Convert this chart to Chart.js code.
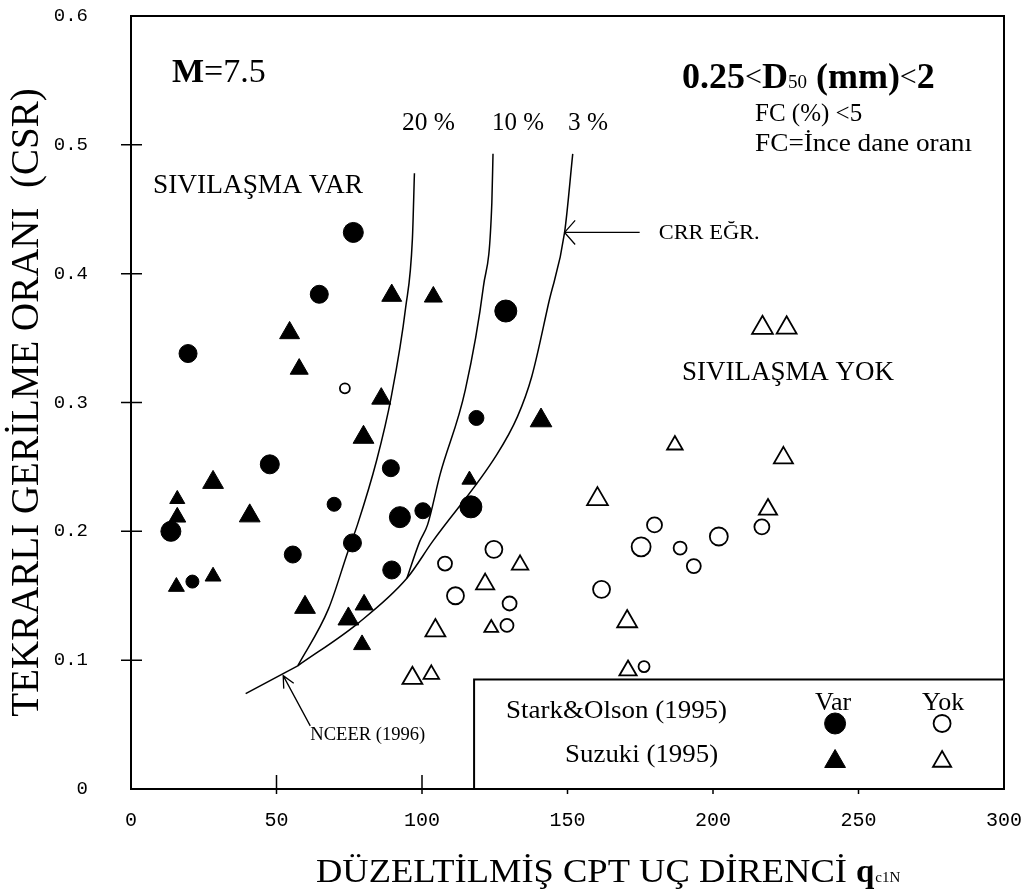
<!DOCTYPE html>
<html>
<head>
<meta charset="utf-8">
<script src="https://cdn.jsdelivr.net/npm/chart.js@4.4.1/dist/chart.umd.min.js"></script>
<style>
  html, body { margin: 0; padding: 0; background: #fff; }
  #wrap { width: 1030px; height: 895px; }
</style>
</head>
<body>
<div id="wrap"><canvas id="chart" width="1030" height="895"></canvas></div>
<script>
// axis ticks
const xTicks = [0, 50, 100, 150, 200, 250, 300];
const yTicks = [0, 0.1, 0.2, 0.3, 0.4, 0.5, 0.6];

// Stark & Olson (1995) - liquefaction (filled circles)
const starkVarQc  = [76.4, 64.7, 128.8, 19.6, 118.7, 47.7, 89.3, 69.8, 92.4, 100.3, 116.8, 13.7, 76.1, 55.6, 89.6, 21.1];
const starkVarCsr = [0.432, 0.384, 0.371, 0.338, 0.288, 0.252, 0.249, 0.221, 0.211, 0.216, 0.219, 0.200, 0.191, 0.182, 0.170, 0.161];
// Suzuki (1995) - liquefaction (filled triangles)
const suzukiVarQc  = [89.6, 103.9, 54.5, 57.8, 86.0, 140.9, 79.9, 116.3, 28.2, 15.9, 40.8, 15.9, 15.6, 28.2, 59.8, 80.1, 74.7, 79.4];
const suzukiVarCsr = [0.383, 0.382, 0.354, 0.326, 0.303, 0.286, 0.273, 0.240, 0.238, 0.225, 0.212, 0.211, 0.157, 0.165, 0.141, 0.143, 0.132, 0.112];
// Stark & Olson (1995) - no liquefaction (open circles)
const starkYokQc  = [73.5, 107.9, 124.7, 111.5, 130.1, 129.2, 179.9, 216.8, 175.3, 188.7, 202.0, 193.4, 161.7, 176.3];
const starkYokCsr = [0.311, 0.175, 0.186, 0.150, 0.144, 0.127, 0.205, 0.2035, 0.188, 0.187, 0.196, 0.173, 0.155, 0.095];
// Suzuki (1995) - no liquefaction (open triangles)
const suzukiYokQc  = [217.0, 225.3, 186.9, 224.2, 160.3, 218.9, 133.7, 121.7, 123.8, 104.6, 96.7, 103.2, 170.5, 170.8];
const suzukiYokCsr = [0.358, 0.358, 0.267, 0.257, 0.225, 0.217, 0.174, 0.159, 0.125, 0.123, 0.086, 0.089, 0.130, 0.092];

// CRR curves (NCEER 1996)
const baseQc  = [39.4, 57.3];
const baseCsr = [0.074, 0.0956];
const curve20Qc  = [57.3, 67.9, 74.5, 77.8, 84.4, 89.4, 94.4, 96.7, 97.4];
const curve20Csr = [0.0956, 0.140, 0.184, 0.205, 0.255, 0.304, 0.374, 0.427, 0.478];
const curve10Qc  = [94.8, 99.2, 101.9, 106.2, 114.9, 121.1, 124.0, 124.4];
const curve10Csr = [0.1635, 0.192, 0.205, 0.244, 0.310, 0.390, 0.455, 0.493];
const curve3Qc  = [57.3, 78.2, 94.8, 103.6, 125.7, 132.8, 137.7, 143.6, 149.0, 151.8];
const curve3Csr = [0.0956, 0.129, 0.1635, 0.192, 0.2595, 0.289, 0.320, 0.378, 0.432, 0.493];

// marker sizes (style only)
const starkVarR  = [10, 9, 11, 9, 7.5, 9.5, 8.5, 7, 10.5, 8, 11, 10, 9, 8.5, 9, 6.5];
const suzukiVarR = [11.5, 10.4, 11.5, 10.4, 11, 12.5, 12, 8.7, 12, 8.7, 12, 9.8, 9.2, 9.2, 12, 10.4, 12, 9.8];
const starkYokR  = [5, 7, 8.5, 8.5, 7, 6.5, 7.5, 7.5, 9.5, 6.5, 9, 7, 8.5, 5.5];
const suzukiYokR = [12, 11.5, 9, 11, 12, 10.5, 9.5, 10.5, 8, 11.5, 11.5, 9, 11.5, 10];

const serif = "'Liberation Serif', 'Times New Roman', serif";
const mono = "'Liberation Mono', 'Courier New', monospace";

const pts = (xs, ys) => xs.map((x, i) => ({ x: x, y: ys[i] }));

function curve(xs, ys) {
  return {
    data: pts(xs, ys), showLine: true, pointRadius: 0, borderColor: '#000',
    borderWidth: 1.5, cubicInterpolationMode: 'monotone', fill: false
  };
}

// draw text; optional width squeezes/stretches horizontally
function txt(ctx, s, x, y, size, opts) {
  opts = opts || {};
  ctx.save();
  ctx.font = (opts.bold ? 'bold ' : '') + size + 'px ' + (opts.family || serif);
  ctx.textBaseline = 'alphabetic';
  ctx.textAlign = 'left';
  ctx.fillStyle = '#000';
  const w = ctx.measureText(s).width;
  const sx = opts.width ? opts.width / w : 1;
  ctx.translate(x, y);
  ctx.scale(sx, 1);
  ctx.fillText(s, 0, 0);
  ctx.restore();
  return w * sx;
}

function arrow(ctx, x1, y1, x2, y2, head, spread) {
  const ang = Math.atan2(y1 - y2, x1 - x2);
  ctx.beginPath();
  ctx.moveTo(x1, y1);
  ctx.lineTo(x2, y2);
  ctx.moveTo(x2 + head * Math.cos(ang + spread), y2 + head * Math.sin(ang + spread));
  ctx.lineTo(x2, y2);
  ctx.lineTo(x2 + head * Math.cos(ang - spread), y2 + head * Math.sin(ang - spread));
  ctx.stroke();
}

const framePlugin = {
  id: 'frame',
  beforeDatasetsDraw(chart) {
    const { ctx, chartArea: a, scales: { x, y } } = chart;
    ctx.save();
    ctx.strokeStyle = '#000';
    ctx.lineWidth = 2;
    ctx.strokeRect(a.left, a.top, a.right - a.left, a.bottom - a.top);
    ctx.lineWidth = 1.5;
    ctx.beginPath();
    xTicks.slice(1, -1).forEach(v => {
      const px = x.getPixelForValue(v);
      ctx.moveTo(px, a.bottom - 14);
      ctx.lineTo(px, a.bottom + 5);
    });
    yTicks.slice(1, -1).forEach(v => {
      const py = y.getPixelForValue(v);
      ctx.moveTo(a.left - 10, py);
      ctx.lineTo(a.left + 11, py);
    });
    ctx.stroke();
    ctx.restore();
  }
};

const notesPlugin = {
  id: 'notes',
  afterDatasetsDraw(chart) {
    const { ctx, chartArea: a, scales: { x, y } } = chart;
    ctx.save();
    ctx.strokeStyle = '#000';
    ctx.lineWidth = 1.3;

    // M=7.5
    let cx = 172;
    cx += txt(ctx, 'M', cx, 82, 34, { bold: true });
    txt(ctx, '=7.5', cx, 82, 34);

    // 0.25<D50 (mm)<2
    cx = 682;
    cx += txt(ctx, '0.25', cx, 88, 36, { bold: true });
    cx += txt(ctx, '<', cx, 86, 30);
    cx += txt(ctx, 'D', cx, 88, 36, { bold: true });
    cx += txt(ctx, '50', cx, 88, 19);
    cx += txt(ctx, ' (mm)', cx, 88, 36, { bold: true });
    cx += txt(ctx, '<', cx, 86, 30);
    txt(ctx, '2', cx, 88, 36, { bold: true });
    txt(ctx, 'FC (%) <5', 755, 121, 25);
    txt(ctx, 'FC=İnce dane oranı', 755, 151, 25, { width: 217 });

    txt(ctx, 'SIVILAŞMA VAR', 153, 193, 27, { width: 210 });
    txt(ctx, 'SIVILAŞMA YOK', 682, 380, 27, { width: 212 });

    txt(ctx, '20 %', 402, 130, 26, { width: 53 });
    txt(ctx, '10 %', 492, 130, 26, { width: 52 });
    txt(ctx, '3 %', 568, 130, 26, { width: 40 });

    // CRR arrow
    const cTip = [x.getPixelForValue(149.0), y.getPixelForValue(0.432)];
    const cTail = [x.getPixelForValue(174.8), cTip[1]];
    arrow(ctx, cTail[0], cTail[1], cTip[0], cTip[1], 16, 0.85);
    txt(ctx, 'CRR EĞR.', cTail[0] + 19, cTip[1] + 7, 21, { width: 101 });

    // NCEER arrow
    const nTip = [x.getPixelForValue(52.3), y.getPixelForValue(0.088)];
    const nTail = [x.getPixelForValue(61.6), y.getPixelForValue(0.049)];
    arrow(ctx, nTail[0], nTail[1], nTip[0], nTip[1], 13, 0.45);
    txt(ctx, 'NCEER (1996)', nTail[0], nTail[1] + 14, 18, { width: 115 });

    // legend box
    const L = x.getPixelForValue(117.9), T = y.getPixelForValue(0.085);
    ctx.fillStyle = '#fff';
    ctx.fillRect(L, T, a.right - L, a.bottom - T);
    ctx.lineWidth = 2;
    ctx.strokeRect(L, T, a.right - L, a.bottom - T);
    txt(ctx, 'Stark&Olson (1995)', L + 32, T + 39, 26, { width: 221 });
    txt(ctx, 'Suzuki (1995)', L + 91, T + 83, 26, { width: 153 });
    txt(ctx, 'Var', L + 341, T + 31, 26);
    txt(ctx, 'Yok', L + 448, T + 31, 26);
    const dp = Chart.helpers.drawPoint;
    ctx.lineWidth = 1;
    ctx.fillStyle = '#000';
    dp(ctx, { pointStyle: 'circle', radius: 10.5, borderWidth: 1, rotation: 0 }, L + 361, T + 44);
    dp(ctx, { pointStyle: 'triangle', radius: 12, borderWidth: 1, rotation: 0 }, L + 361, T + 82);
    ctx.fillStyle = '#fff';
    ctx.lineWidth = 1.8;
    dp(ctx, { pointStyle: 'circle', radius: 8.5, borderWidth: 1.8, rotation: 0 }, L + 468, T + 44);
    dp(ctx, { pointStyle: 'triangle', radius: 10.5, borderWidth: 1.8, rotation: 0 }, L + 468, T + 82);

    // x axis title with q_c1N
    cx = 316;
    cx += txt(ctx, 'DÜZELTİLMİŞ CPT UÇ DİRENCİ ', cx, 882, 33, { width: 540 });
    cx += txt(ctx, 'q', cx, 882, 33, { bold: true });
    txt(ctx, 'c1N', cx + 1, 882, 15);
    ctx.restore();
  }
};

new Chart(document.getElementById('chart'), {
  type: 'scatter',
  data: {
    datasets: [
      { data: pts(starkVarQc, starkVarCsr), pointStyle: 'circle', pointRadius: starkVarR,
        backgroundColor: '#000', borderColor: '#000', borderWidth: 1 },
      { data: pts(suzukiVarQc, suzukiVarCsr), pointStyle: 'triangle', pointRadius: suzukiVarR,
        backgroundColor: '#000', borderColor: '#000', borderWidth: 1 },
      { data: pts(starkYokQc, starkYokCsr), pointStyle: 'circle', pointRadius: starkYokR,
        backgroundColor: '#fff', borderColor: '#000', borderWidth: 1.8 },
      { data: pts(suzukiYokQc, suzukiYokCsr), pointStyle: 'triangle', pointRadius: suzukiYokR,
        backgroundColor: '#fff', borderColor: '#000', borderWidth: 1.8 },
      curve(baseQc, baseCsr),
      curve(curve20Qc, curve20Csr),
      curve(curve10Qc, curve10Csr),
      curve(curve3Qc, curve3Csr)
    ]
  },
  options: {
    responsive: false,
    animation: false,
    devicePixelRatio: 1,
    layout: { padding: { left: 0, right: 26, top: 16, bottom: 0 } },
    plugins: { legend: { display: false }, tooltip: { enabled: false } },
    scales: {
      x: {
        type: 'linear', min: 0, max: 300,
        afterFit: s => { s.height = 106; },
        afterBuildTicks: s => { s.ticks = xTicks.map(v => ({ value: v })); },
        grid: { display: false, drawTicks: true, tickLength: 18 },
        border: { display: false },
        ticks: { padding: 2, color: '#000', maxRotation: 0, font: { family: mono, size: 20 } }
      },
      y: {
        type: 'linear', min: 0, max: 0.6,
        afterFit: s => { s.width = 131; },
        afterBuildTicks: s => { s.ticks = yTicks.map(v => ({ value: v })); },
        grid: { display: false, drawTicks: true, tickLength: 41 },
        border: { display: false },
        ticks: {
          padding: 2, color: '#000', font: { family: mono, size: 19 },
          callback: v => (v === 0 ? '0' : v.toFixed(1))
        },
        title: {
          display: true, text: 'TEKRARLI GERİLME ORANI  (CSR)', color: '#000',
          font: { family: serif, size: 39 }, padding: { top: 4, bottom: 0 }
        }
      }
    }
  },
  plugins: [framePlugin, notesPlugin]
});
</script>
</body>
</html>
